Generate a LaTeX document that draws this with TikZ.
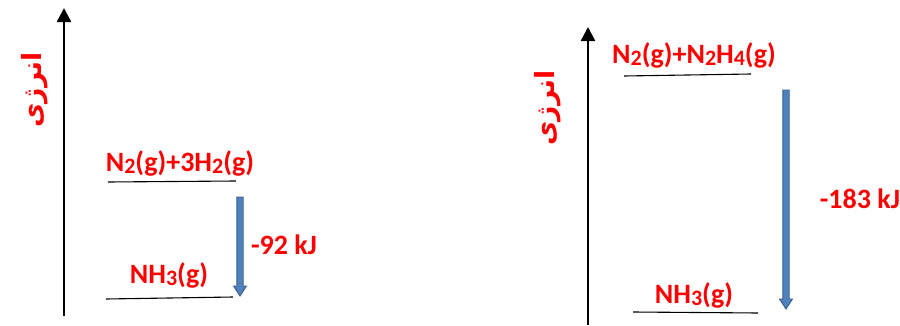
\documentclass[tikz,border=0pt]{standalone}
\usepackage{fontspec}
\setmainfont{Carlito}
\newfontfamily\arabicfont[Script=Arabic]{DejaVu Sans}
\TeXXeTstate=1
\usetikzlibrary{arrows.meta,calc}
\definecolor{arrfill}{HTML}{4F81BD}
\definecolor{arredge}{HTML}{385D8A}
\newcommand\chsub[1]{\raisebox{-0.08em}{\fontsize{22}{22}\selectfont #1}}
\tikzset{
  lbl/.style={text=red,font=\fontsize{28}{28}\selectfont\bfseries,inner sep=0pt},
  fa/.style={text=red,font=\arabicfont\fontsize{26.5}{26.5}\selectfont\bfseries,rotate=90,inner sep=0pt},
  axis/.style={line width=2.4pt,-{Triangle[width=14pt,length=14pt]}},
  level/.style={line width=1.1pt},
}
\newcommand\blockarrow[2]{%
  \filldraw[fill=arrfill,draw=arredge,line width=0.9pt]
    ($(#1)+(-3.2,0)$) -- ($(#2)+(-3.2,10)$) -- ($(#2)+(-6.5,10)$) -- (#2)
    -- ($(#2)+(6.5,10)$) -- ($(#2)+(3.2,10)$) -- ($(#1)+(3.2,0)$) -- cycle;}
\begin{document}
\begin{tikzpicture}[x=1pt,y=1pt]
\useasboundingbox (0,0) rectangle (900,325);
% left diagram
\coordinate (la0) at (64,9);
\coordinate (la1) at (64,317);
\draw[axis] (la0) -- (la1);
\node[fa] (lfa) at (35,235) {\beginR انرژی\endR};
\coordinate (lt1) at (108,143);
\coordinate (lt2) at (236,144);
\draw[level] (lt1) -- (lt2);
\node[lbl] (ltt) at (180,162) {N\chsub{2}(g)+3H\chsub{2}(g)};
\coordinate (lb1) at (106,26);
\coordinate (lb2) at (233,28);
\draw[level] (lb1) -- (lb2);
\node[lbl] (lbt) at (169,50) {NH\chsub{3}(g)};
\coordinate (larrT) at (240,128);
\coordinate (larrB) at (240,29);
\blockarrow{larrT}{larrB}
\node[lbl] (ldh) at (284,80) {-92 kJ};
% right diagram
\coordinate (ra0) at (588,0);
\coordinate (ra1) at (588,298);
\draw[axis] (ra0) -- (ra1);
\node[fa] (rfa) at (548,217) {\beginR انرژی\endR};
\coordinate (rt1) at (624,249);
\coordinate (rt2) at (751,251);
\draw[level] (rt1) -- (rt2);
\node[lbl] (rtt) at (694,270) {N\chsub{2}(g)+N\chsub{2}H\chsub{4}(g)};
\coordinate (rb1) at (633,13);
\coordinate (rb2) at (758,12);
\draw[level] (rb1) -- (rb2);
\node[lbl] (rbt) at (694,30) {NH\chsub{3}(g)};
\coordinate (rarrT) at (786,235);
\coordinate (rarrB) at (786,16);
\blockarrow{rarrT}{rarrB}
\node[lbl] (rdh) at (860,126) {-183 kJ};
\end{tikzpicture}
\end{document}
